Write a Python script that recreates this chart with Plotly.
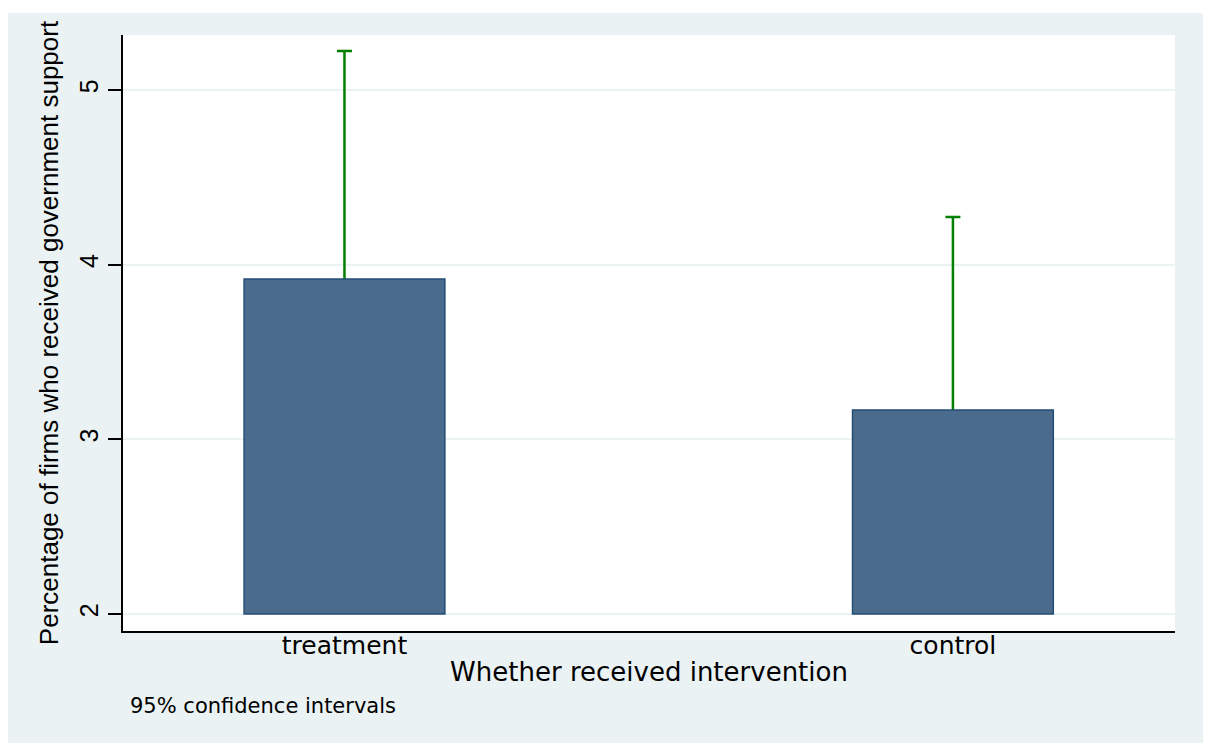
import plotly.graph_objects as go

categories = ["treatment", "control"]
means = [3.918, 3.168]
ci_upper = [5.223, 4.273]
y_ticks = [2, 3, 4, 5]

x_pos = list(range(len(categories)))
half_ci = [u - m for u, m in zip(ci_upper, means)]
base_val = 2
heights = [m - base_val for m in means]

fig = go.Figure()
# CI whiskers (lower half hidden behind the bars drawn next)
fig.add_trace(go.Bar(
    x=x_pos, y=heights, base=[base_val] * len(means), width=0.33,
    marker=dict(color="rgba(0,0,0,0)", line=dict(width=0)),
    error_y=dict(type="data", symmetric=True, array=half_ci,
                 color="#008000", thickness=2.5, width=7.5),
    showlegend=False, hoverinfo="skip",
))
fig.add_trace(go.Bar(
    x=x_pos, y=heights, base=[base_val] * len(means), width=0.33,
    marker=dict(color="#4A6B8C", line=dict(color="#244D75", width=1.5)),
    showlegend=False, hoverinfo="skip",
))

bg = "#EAF2F3"
fig.update_layout(
    barmode="overlay",
    width=1203, height=736,
    margin=dict(l=115, r=36, t=27, b=113, autoexpand=False),
    paper_bgcolor="white", plot_bgcolor="white",
    font=dict(family="DejaVu Sans", color="black"),
    shapes=[
        dict(type="rect", xref="paper", yref="paper", x0=-0.1131, x1=1.0295,
             y0=-0.1879, y1=1.0369, fillcolor=bg, line=dict(width=0), layer="below"),
        dict(type="rect", xref="paper", yref="paper", x0=0, x1=1,
             y0=0, y1=1, fillcolor="white", line=dict(width=0), layer="below"),
    ],
    xaxis=dict(
        range=[-0.364, 1.365], tickmode="array", tickvals=x_pos, ticktext=categories,
        showgrid=False, zeroline=False, showline=True, linecolor="black", linewidth=1.5,
        ticks="", tickfont=dict(size=25, family="DejaVu Sans"), ticklabelstandoff=-9,
        title=dict(text="Whether received intervention", font=dict(size=26, family="DejaVu Sans"),
                   standoff=4),
        automargin=False,
    ),
    yaxis=dict(
        range=[1.903, 5.315], tickmode="array", tickvals=y_ticks,
        ticktext=[str(t) for t in y_ticks],
        showgrid=True, gridcolor=bg, gridwidth=2, zeroline=False,
        showline=True, linecolor="black", linewidth=1.5,
        ticks="outside", ticklen=13, tickcolor="black", tickwidth=1.5,
        tickangle=-90, tickfont=dict(size=25, family="Liberation Sans"),
        title=dict(text="Percentage of firms who received government support",
                   font=dict(size=26, family="Liberation Sans"), standoff=9),
        automargin=False,
    ),
    annotations=[dict(text="95% confidence intervals", xref="paper", yref="paper",
                      x=0.0047, y=-0.1258, xanchor="left", yanchor="middle",
                      showarrow=False, font=dict(size=21, family="DejaVu Sans"))],
)

fig.write_html("out.html")
